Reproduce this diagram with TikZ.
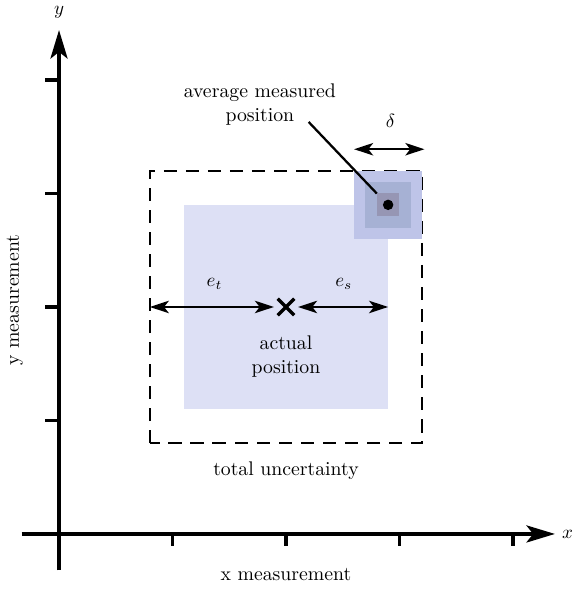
\documentclass[tikz,border=0pt]{standalone}
\usetikzlibrary{arrows.meta,shapes.misc}
\definecolor{boxfill}{RGB}{221,224,245}
\definecolor{spreadA}{RGB}{190,196,232}
\definecolor{spreadB}{RGB}{166,177,212}
\definecolor{spreadC}{RGB}{150,150,180}
\begin{document}
\begin{tikzpicture}[x=2.1cm, y=2.1cm,
  every node/.style={inner sep=1pt, font=\fontsize{10.4}{12.6}\selectfont},
  axis/.style={line width=1.75pt, -{Stealth[length=15pt, width=9pt, inset=3.5pt]}},
  dim/.style={line width=1.2pt, {Stealth[length=10pt, width=6.5pt, inset=2.5pt]}-{Stealth[length=10pt, width=6.5pt, inset=2.5pt]}}]
  \useasboundingbox (-0.52,-0.485) rectangle (4.537,4.705);
  % axes
  \coordinate (xs) at (-0.33,0);
  \coordinate (xe) at (4.37,0);
  \coordinate (ys) at (0,-0.32);
  \coordinate (ye) at (0,4.44);
  \draw[axis] (xs) -- (xe);
  \draw[axis] (ys) -- (ye);
  \foreach \i in {1,2,3,4} {
    \draw[line width=1.75pt] (\i,0) -- (\i,-0.11);
    \draw[line width=1.75pt] (0,\i) -- (-0.12,\i);
  }
  \node (xlab) at (4.48,0) {$x$};
  \node (ylab) at (0,4.6) {$y$};
  \node (xmeas) at (2,-0.36) {x measurement};
  \node (ymeas) [rotate=90] at (-0.39,2.06) {y measurement};
  % regions
  \fill[boxfill] (1.1,1.1) rectangle (2.9,2.9);
  \draw[line width=1.2pt, dash pattern=on 7pt off 4.6pt] (0.8,0.8) rectangle (3.2,3.2);
  \fill[spreadA] (2.6,2.6) rectangle (3.2,3.2);
  \fill[spreadB] (2.7,2.7) rectangle (3.1,3.1);
  \fill[spreadC] (2.8,2.8) rectangle (3.0,3.0);
  \node (avg) [circle, fill=black, inner sep=0pt, minimum size=5.5pt] at (2.9,2.9) {};
  \node (act) [cross out, draw, line width=1.7pt, inner sep=0pt, minimum size=7pt] at (2,2) {};
  % labels
  \node (avglab) [align=center] at (1.77,3.78) {average measured\\position};
  \coordinate (lead) at (2.2,3.63);
  \draw[line width=1.2pt] (lead) -- (2.8,3.0);
  \coordinate (dl) at (2.6,3.39);
  \coordinate (dr) at (3.22,3.39);
  \draw[dim] (dl) -- (dr);
  \node (delta) at (2.92,3.64) {$\delta$};
  \coordinate (tl) at (0.8,2);
  \coordinate (sr) at (2.9,2);
  \draw[dim] (tl) -- ([xshift=-2pt]act.west);
  \draw[dim] ([xshift=2pt]act.east) -- (sr);
  \node (et) at (1.37,2.2) {$e_t$};
  \node (es) at (2.51,2.2) {$e_s$};
  \node (actlab) [align=center] at (2,1.56) {actual\\position};
  \node (total) at (2,0.56) {total uncertainty};
\end{tikzpicture}
\end{document}
